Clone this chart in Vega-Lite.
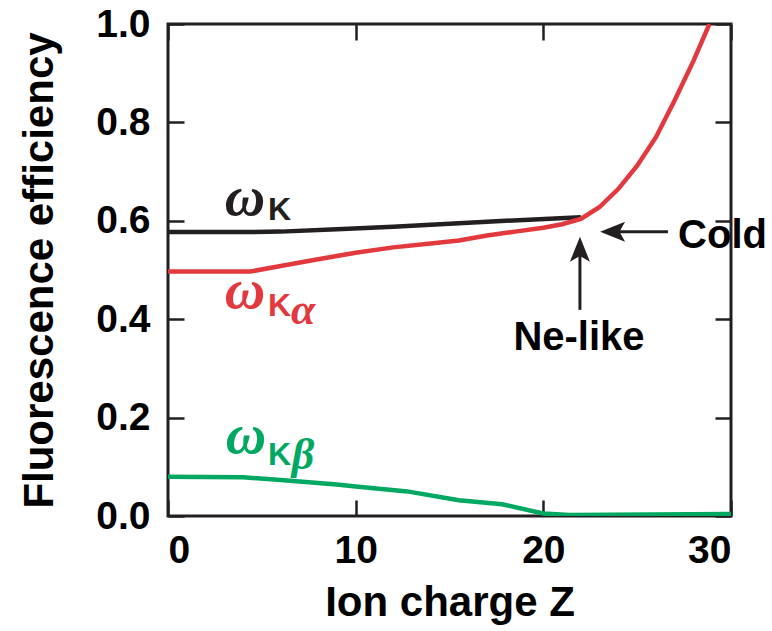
{
  "$schema": "https://vega.github.io/schema/vega-lite/v6.json",
  "width": 563,
  "height": 492,
  "autosize": {"type": "none"},
  "padding": {"left": 168, "top": 24, "right": 41, "bottom": 115},
  "background": "white",
  "config": {
    "view": {"stroke": "#231f20", "strokeWidth": 3},
    "axis": {
      "domain": false,
      "grid": false,
      "tickColor": "#231f20",
      "tickWidth": 2.5,
      "tickSize": -16,
      "labelFont": "Liberation Sans",
      "labelFontWeight": "bold",
      "labelFontSize": 39,
      "labelColor": "black",
      "titleFont": "Liberation Sans",
      "titleFontWeight": "bold",
      "titleFontSize": 42,
      "titleColor": "black"
    }
  },
  "datasets": {
    "curves": [
      {"Z": 0, "v": 0.577, "s": "K"},
      {"Z": 4, "v": 0.577, "s": "K"},
      {"Z": 6, "v": 0.578, "s": "K"},
      {"Z": 9, "v": 0.583, "s": "K"},
      {"Z": 12, "v": 0.588, "s": "K"},
      {"Z": 15, "v": 0.594, "s": "K"},
      {"Z": 18, "v": 0.600, "s": "K"},
      {"Z": 22, "v": 0.607, "s": "K"},
      {"Z": 0, "v": 0.497, "s": "Ka"},
      {"Z": 4.4, "v": 0.497, "s": "Ka"},
      {"Z": 6, "v": 0.508, "s": "Ka"},
      {"Z": 8, "v": 0.522, "s": "Ka"},
      {"Z": 10, "v": 0.535, "s": "Ka"},
      {"Z": 12, "v": 0.546, "s": "Ka"},
      {"Z": 14, "v": 0.554, "s": "Ka"},
      {"Z": 15.5, "v": 0.560, "s": "Ka"},
      {"Z": 17, "v": 0.570, "s": "Ka"},
      {"Z": 18.5, "v": 0.578, "s": "Ka"},
      {"Z": 20, "v": 0.586, "s": "Ka"},
      {"Z": 21, "v": 0.593, "s": "Ka"},
      {"Z": 22, "v": 0.604, "s": "Ka"},
      {"Z": 23, "v": 0.628, "s": "Ka"},
      {"Z": 24, "v": 0.665, "s": "Ka"},
      {"Z": 25, "v": 0.712, "s": "Ka"},
      {"Z": 26, "v": 0.770, "s": "Ka"},
      {"Z": 27, "v": 0.845, "s": "Ka"},
      {"Z": 28, "v": 0.925, "s": "Ka"},
      {"Z": 28.85, "v": 1.0, "s": "Ka"},
      {"Z": 0, "v": 0.080, "s": "Kb"},
      {"Z": 4, "v": 0.079, "s": "Kb"},
      {"Z": 6, "v": 0.073, "s": "Kb"},
      {"Z": 9, "v": 0.064, "s": "Kb"},
      {"Z": 10, "v": 0.060, "s": "Kb"},
      {"Z": 12.75, "v": 0.050, "s": "Kb"},
      {"Z": 15.5, "v": 0.032, "s": "Kb"},
      {"Z": 17.8, "v": 0.024, "s": "Kb"},
      {"Z": 20, "v": 0.005, "s": "Kb"},
      {"Z": 21.4, "v": 0.002, "s": "Kb"},
      {"Z": 30, "v": 0.004, "s": "Kb"}
    ],
    "omega": [
      {"Z": 4.1, "v": 0.612, "s": "K"},
      {"Z": 4.1, "v": 0.4228, "s": "Ka"},
      {"Z": 4.15, "v": 0.128, "s": "Kb"}
    ],
    "kay": [
      {"Z": 5.33, "v": 0.6016, "s": "K"},
      {"Z": 5.33, "v": 0.4065, "s": "Ka"},
      {"Z": 5.33, "v": 0.1037, "s": "Kb"}
    ],
    "greek": [
      {"Z": 6.55, "v": 0.390, "s": "Ka", "t": "α"},
      {"Z": 6.6, "v": 0.0955, "s": "Kb", "t": "β"}
    ],
    "notes": [
      {"Z": 29.55, "v": 0.545, "t": "Cold"},
      {"Z": 21.9, "v": 0.337, "t": "Ne-like"}
    ],
    "shafts": [
      {"Z": 26.64, "Z2": 24.0, "v": 0.5778, "v2": 0.5778},
      {"Z": 21.95, "Z2": 21.95, "v": 0.419, "v2": 0.55}
    ],
    "heads": [
      {"Z": 23.69, "v": 0.5778, "d": "left"},
      {"Z": 21.95, "v": 0.5423, "d": "up"}
    ]
  },
  "layer": [
    {
      "data": {"name": "curves"},
      "mark": {"type": "line", "strokeWidth": 4.5, "clip": true},
      "encoding": {
        "x": {"field": "Z", "type": "quantitative", "scale": {"domain": [0, 30], "nice": false},
              "axis": {"values": [0, 10, 20, 30], "title": "Ion charge Z", "labelPadding": 31, "titlePadding": 12, "orient": "bottom"}},
        "y": {"field": "v", "type": "quantitative", "scale": {"domain": [0, 1], "nice": false},
              "axis": {"values": [0, 0.2, 0.4, 0.6, 0.8, 1.0], "format": ".1f", "title": "Fluorescence efficiency", "labelPadding": 34, "titlePadding": 34, "orient": "left"}},
        "color": {"field": "s", "type": "nominal", "scale": {"domain": ["K", "Ka", "Kb"], "range": ["#231f20", "#e2393f", "#00a862"]}, "legend": null}
      }
    },
    {
      "data": {"name": "omega"},
      "mark": {"type": "text", "text": "ω", "font": "Liberation Serif", "fontStyle": "italic", "fontWeight": "bold", "fontSize": 56, "align": "center", "baseline": "alphabetic"},
      "encoding": {
        "x": {"field": "Z", "type": "quantitative", "axis": {"values": [0, 10, 20, 30], "labels": false, "title": null, "orient": "top"}},
        "y": {"field": "v", "type": "quantitative", "axis": {"values": [0, 0.2, 0.4, 0.6, 0.8, 1.0], "labels": false, "title": null, "orient": "right"}},
        "color": {"field": "s", "type": "nominal", "legend": null}
      }
    },
    {
      "data": {"name": "kay"},
      "mark": {"type": "text", "text": "K", "font": "Liberation Sans", "fontWeight": "bold", "fontSize": 32, "align": "left", "baseline": "alphabetic"},
      "encoding": {
        "x": {"field": "Z", "type": "quantitative", "axis": null},
        "y": {"field": "v", "type": "quantitative", "axis": null},
        "color": {"field": "s", "type": "nominal", "legend": null}
      }
    },
    {
      "data": {"name": "greek"},
      "mark": {"type": "text", "font": "Liberation Serif", "fontStyle": "italic", "fontWeight": "bold", "fontSize": 44, "align": "left", "baseline": "alphabetic"},
      "encoding": {
        "x": {"field": "Z", "type": "quantitative", "axis": null},
        "y": {"field": "v", "type": "quantitative", "axis": null},
        "text": {"field": "t"},
        "color": {"field": "s", "type": "nominal", "legend": null}
      }
    },
    {
      "data": {"name": "notes"},
      "mark": {"type": "text", "font": "Liberation Sans", "fontWeight": "bold", "fontSize": 40, "align": "center", "baseline": "alphabetic", "color": "black"},
      "encoding": {
        "x": {"field": "Z", "type": "quantitative", "axis": null},
        "y": {"field": "v", "type": "quantitative", "axis": null},
        "text": {"field": "t"}
      }
    },
    {
      "data": {"name": "shafts"},
      "mark": {"type": "rule", "strokeWidth": 3, "color": "#231f20"},
      "encoding": {
        "x": {"field": "Z", "type": "quantitative", "axis": null},
        "x2": {"field": "Z2"},
        "y": {"field": "v", "type": "quantitative", "axis": null},
        "y2": {"field": "v2"}
      }
    },
    {
      "data": {"name": "heads"},
      "mark": {"type": "point", "filled": true, "opacity": 1, "size": 625, "color": "#231f20", "strokeWidth": 0},
      "encoding": {
        "x": {"field": "Z", "type": "quantitative", "axis": null},
        "y": {"field": "v", "type": "quantitative", "axis": null},
        "shape": {"field": "d", "type": "nominal", "scale": {"domain": ["left", "up"], "range": ["M -1 0 L 1 -0.8 L 0.55 0 L 1 0.8 Z", "M 0 -1 L 0.8 1 L 0 0.55 L -0.8 1 Z"]}, "legend": null}
      }
    }
  ],
  "resolve": {"axis": {"x": "independent", "y": "independent"}}
}
